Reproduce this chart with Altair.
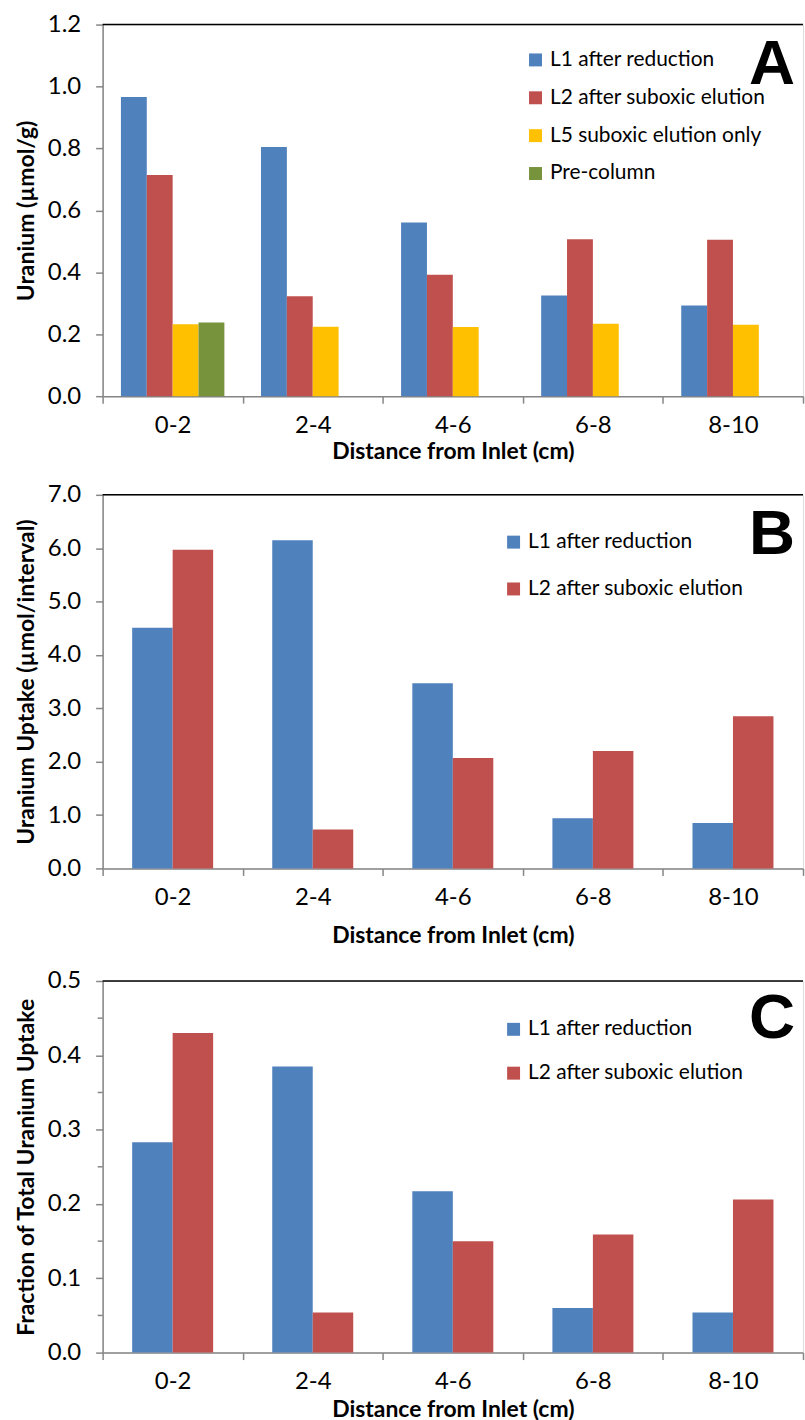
import altair as alt
import pandas as pd

categories = ["0-2", "2-4", "4-6", "6-8", "8-10"]

series_a = ["L1 after reduction", "L2 after suboxic elution", "L5  suboxic elution only", "Pre-column"]
a_l1 = [0.966, 0.805, 0.561, 0.325, 0.293]
a_l2 = [0.714, 0.323, 0.392, 0.507, 0.505]
a_l5 = [0.232, 0.224, 0.223, 0.234, 0.231]
a_pre = [0.238, None, None, None, None]

series_bc = ["L1 after reduction", "L2 after suboxic elution"]
b_l1 = [4.51, 6.15, 3.47, 0.94, 0.85]
b_l2 = [5.97, 0.73, 2.07, 2.20, 2.85]

c_l1 = [0.283, 0.385, 0.217, 0.060, 0.054]
c_l2 = [0.430, 0.054, 0.150, 0.159, 0.206]

ticks_a = [0, 0.2, 0.4, 0.6, 0.8, 1.0, 1.2]
ticks_b = [0, 1, 2, 3, 4, 5, 6, 7]
ticks_c = [0, 0.1, 0.2, 0.3, 0.4, 0.5]
minor_c = [0.05, 0.15, 0.25, 0.35, 0.45]

colors_a = ["#4F81BD", "#C0504D", "#FFC000", "#77933C"]
colors_bc = ["#4F81BD", "#C0504D"]

W = 703
FONT = "Lato"
AXIS_GRAY = "#868686"


def long_df(series, lists):
    rows = []
    for s, vals in zip(series, lists):
        for c, v in zip(categories, vals):
            if v is not None:
                rows.append({"cat": c, "series": s, "value": v})
    return pd.DataFrame(rows)


def panel(df, series, colors, letter, height, ydom, yvals, ytitle,
          pad_outer, leg_x, leg_y, leg_row, title_y, letter_y, minor=None):
    bars = alt.Chart(df).mark_bar().encode(
        x=alt.X("cat:N", sort=categories,
                scale=alt.Scale(paddingInner=0, paddingOuter=0),
                axis=alt.Axis(title="Distance from Inlet (cm)", labelAngle=0,
                              tickBand="extent", tickSize=7, labelPadding=10,
                              labelFontSize=24, labelFont=FONT, labelColor="#000000",
                              titleFontSize=23, titleFont=FONT, titleFontWeight="bold",
                              titleColor="#000000", titleY=title_y, titleBaseline="top",
                              domainColor=AXIS_GRAY, tickColor=AXIS_GRAY,
                              domainWidth=1.5, tickWidth=1.5)),
        xOffset=alt.XOffset("series:N", sort=series,
                            scale=alt.Scale(domain=series, paddingInner=0, paddingOuter=pad_outer)),
        y=alt.Y("value:Q",
                scale=alt.Scale(domain=ydom, nice=False, zero=True),
                axis=alt.Axis(title=ytitle, values=yvals, format=".1f",
                              tickSize=7, labelPadding=15, grid=False,
                              labelFontSize=24, labelFont=FONT, labelColor="#000000",
                              titleFontSize=23, titleFont=FONT, titleFontWeight="bold",
                              titleColor="#000000", titleX=-76, titleBaseline="middle",
                              domainColor=AXIS_GRAY, tickColor=AXIS_GRAY,
                              domainWidth=1.5, tickWidth=1.5)),
        color=alt.Color("series:N", sort=series,
                        scale=alt.Scale(domain=series, range=colors),
                        legend=alt.Legend(orient="none", legendX=leg_x,
                                          legendY=leg_y, title=None, direction="vertical",
                                          symbolType="square", symbolSize=169,
                                          symbolStrokeWidth=0, labelFontSize=21,
                                          labelFont=FONT, labelColor="#000000",
                                          labelLimit=0, labelOffset=4, rowPadding=leg_row)),
    )
    one = pd.DataFrame({"t": [letter]})
    top_rule = alt.Chart(one).mark_rule(color="#000000", strokeWidth=1.5).encode(
        x=alt.value(0), x2=alt.value(W), y=alt.value(0))
    lab = alt.Chart(one).mark_text(font="Liberation Sans", fontWeight="bold", fontSize=64,
                                   align="center", baseline="alphabetic", color="#000000").encode(
        text="t:N", x=alt.value(672), y=alt.value(letter_y))
    layers = [bars, top_rule, lab]
    if minor:
        mdf = pd.DataFrame({"value": minor})
        mticks = alt.Chart(mdf).mark_rule(color=AXIS_GRAY, strokeWidth=1.5).encode(
            y="value:Q", x=alt.value(-5), x2=alt.value(0))
        layers.append(mticks)
    return alt.layer(*layers).properties(width=W, height=height)


df_a = long_df(series_a, [a_l1, a_l2, a_l5, a_pre])
df_b = long_df(series_bc, [b_l1, b_l2])
df_c = long_df(series_bc, [c_l1, c_l2])

pa = panel(df_a, series_a, colors_a, "A", 373, [0, 1.2], ticks_a,
           "Uranium (µmol/g)", 0.708, 424, 25, 16, 45, 60)
pb = panel(df_b, series_bc, colors_bc, "B", 375, [0, 7], ticks_b,
           "Uranium Uptake (µmol/interval)", 0.73, 402, 37, 25, 56, 59)
pc = panel(df_c, series_bc, colors_bc, "C", 373, [0, 0.5], ticks_c,
           "Fraction of Total Uranium Uptake", 0.73, 402, 38, 22, 46, 57, minor=minor_c)

res = dict(x="independent", y="independent", color="independent", xOffset="independent")
inner = alt.vconcat(pa, pb, spacing=17).resolve_scale(**res).resolve_legend(color="independent")
chart = alt.vconcat(inner, pc, spacing=20).resolve_scale(**res).resolve_legend(
    color="independent"
).properties(
    padding={"left": 15, "top": 9, "right": 0, "bottom": 0}
).configure_view(strokeWidth=0).configure(background="#ffffff")

chart.save("out.html", embed_options={"renderer": "svg", "actions": False})
